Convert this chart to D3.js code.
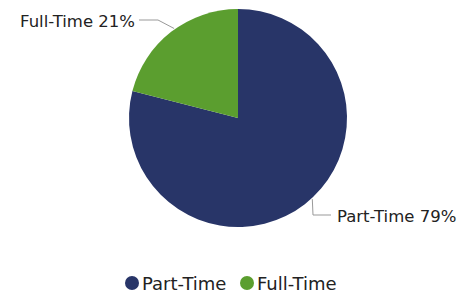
<!DOCTYPE html>
<html>
<head>
<meta charset="utf-8">
<script src="https://cdn.jsdelivr.net/npm/d3@7/dist/d3.min.js"></script>
<style>
  body { margin: 0; background: #fff; }
  text { font-family: "DejaVu Sans", Verdana, sans-serif; fill: #222; }
</style>
</head>
<body>
<svg id="chart" width="460" height="295"></svg>
<script>
// chart data
var categories = ["Part-Time", "Full-Time"];
var values = [79, 21];
var colors = ["#283568", "#5b9e2f"];

var svg = d3.select("#chart")
  , cx = 238
  , cy = 118
  , radius = 109;

var pie = d3.pie().sort(null).value(function(d){ return d.value; });
var arc = d3.arc().innerRadius(0).outerRadius(radius);

var data = categories.map(function(c, i){ return {name: c, value: values[i], color: colors[i]}; });
var arcs = pie(data);

var g = svg.append("g").attr("transform", "translate(" + cx + "," + cy + ")");

g.selectAll("path.slice")
  .data(arcs)
 .enter().append("path")
  .attr("class", "slice")
  .attr("d", arc)
  .style("fill", function(d){ return d.data.color; });

// leader lines + labels
var labelPos = [
  // Part-Time : right bottom
  {angle: 2.4, elbow: [75, 97], end: [93, 97], anchor: "start", dx: 6},
  // Full-Time : left top
  {angle: -0.62, elbow: [-80, -98], end: [-99, -98], anchor: "end", dx: -4}
];

arcs.forEach(function(d, i){
  var lp = labelPos[i];
  var p0 = [Math.sin(lp.angle) * (radius + 1), -Math.cos(lp.angle) * (radius + 1)];
  g.append("polyline")
    .attr("points", [p0, lp.elbow, lp.end].map(function(p){ return p.join(","); }).join(" "))
    .style("fill", "none")
    .style("stroke", "#999")
    .style("stroke-width", 1);
  g.append("text")
    .attr("x", lp.end[0] + lp.dx)
    .attr("y", lp.end[1] + 7)
    .attr("text-anchor", lp.anchor)
    .style("font-size", "16.5px")
    .text(d.data.name + " " + d.data.value + "%");
});

// legend
var legend = svg.append("g").attr("transform", "translate(132,283)");
var offsets = [0, 115];
data.forEach(function(d, i){
  var item = legend.append("g").attr("transform", "translate(" + offsets[i] + ",0)");
  item.append("circle").attr("r", 7).style("fill", d.color);
  item.append("text")
    .attr("x", 10)
    .attr("y", 6.5)
    .style("font-size", "18px")
    .text(d.name);
});
</script>
</body>
</html>
